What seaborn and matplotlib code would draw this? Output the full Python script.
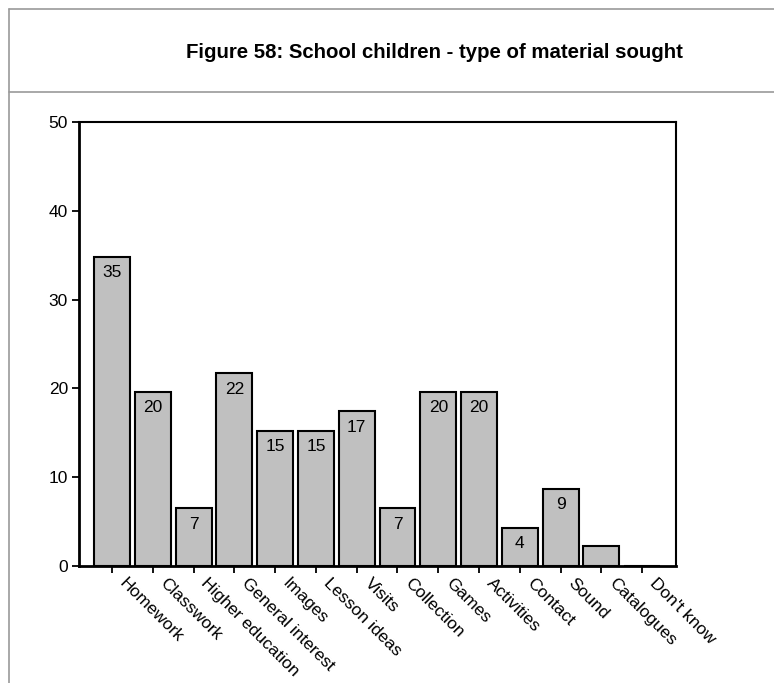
import matplotlib
matplotlib.use("Agg")
import matplotlib.pyplot as plt
from matplotlib.lines import Line2D
from matplotlib.transforms import ScaledTranslation
import seaborn as sns
import pandas as pd

# Type of material sought by school children (% of respondents)
categories = ["Homework", "Classwork", "Higher education", "General interest",
              "Images", "Lesson ideas", "Visits", "Collection", "Games",
              "Activities", "Contact", "Sound", "Catalogues", "Don't know"]
values = [34.8, 19.6, 6.5, 21.7, 15.2, 15.2, 17.4, 6.5, 19.6, 19.6, 4.3, 8.7, 2.2, 0.0]
y_ticks = [0, 10, 20, 30, 40, 50]
title = "Figure 58: School children - type of material sought"

sns.set_theme(style="white")
plt.rcParams["font.family"] = ["Liberation Sans", "DejaVu Sans"]

df = pd.DataFrame({"category": categories, "value": values})

W, H = 774, 683
fig = plt.figure(figsize=(W / 100, H / 100), dpi=100)
ax = fig.add_axes([79 / W, 1 - 566 / H, (676 - 79) / W, (566 - 122) / H])

sns.barplot(data=df, x="category", y="value", color="#c0c0c0", saturation=1,
            edgecolor="black", linewidth=1.5, width=0.88, ax=ax)

# value labels inside the top of each bar (small bars left unlabelled)
for i, v in enumerate(values):
    if v >= 3:
        ax.annotate(f"{int(v + 0.5)}", xy=(i, v), xytext=(0, -11.5),
                    textcoords="offset points", ha="center", va="center",
                    fontsize=12.5, color="black")

ax.set_ylim(0, 50)
ax.set_xlim(-0.81, 13.83)
ax.set_yticks(y_ticks)
ax.set_yticklabels([str(t) for t in y_ticks], fontsize=12.5)
ax.set_xticks(range(len(categories)))
ax.set_xticklabels(categories, rotation=-45, ha="left", va="top",
                   rotation_mode="anchor", fontsize=12.5)
ax.set_xlabel("")
ax.set_ylabel("")
ax.tick_params(axis="both", direction="out", length=5, width=1.3,
               color="black", labelcolor="black", pad=3,
               bottom=True, left=True)
ax.tick_params(axis="x", pad=5)
shift = ScaledTranslation(11 / 72, 3 / 72, fig.dpi_scale_trans)
for lbl in ax.get_xticklabels():
    lbl.set_transform(lbl.get_transform() + shift)

for side in ["left", "bottom"]:
    ax.spines[side].set_linewidth(2.0)
for side in ["top", "right"]:
    ax.spines[side].set_linewidth(1.5)
for sp in ax.spines.values():
    sp.set_color("black")
    sp.set_visible(True)

# page frame: top rule, left rule and title separator
grey = "#9a9a9a"
fig.add_artist(Line2D([9 / W, 1.0], [1 - 9 / H, 1 - 9 / H],
                      transform=fig.transFigure, color=grey, lw=1.2))
fig.add_artist(Line2D([9 / W, 9 / W], [0.0, 1 - 9 / H],
                      transform=fig.transFigure, color=grey, lw=1.2))
fig.add_artist(Line2D([9 / W, 1.0], [1 - 92 / H, 1 - 92 / H],
                      transform=fig.transFigure, color=grey, lw=1.2))

fig.text(434 / W, 1 - 52 / H, title, ha="center", va="center",
         fontsize=14.7, fontweight="bold", color="black")

fig.savefig("out.png", dpi=100, facecolor="white")
